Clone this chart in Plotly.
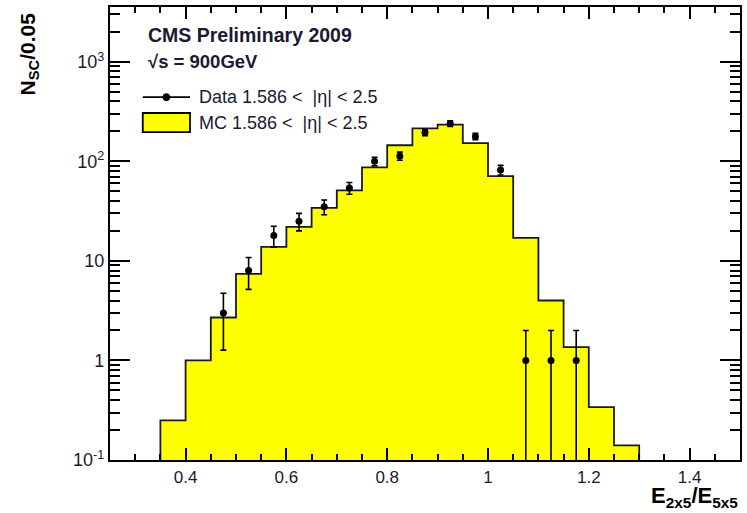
import numpy as np
import plotly.graph_objects as go

# ---- data ----
bin_width = 0.05
mc_low_edges = [0.35, 0.40, 0.45, 0.50, 0.55, 0.60, 0.65, 0.70, 0.75, 0.80,
                0.85, 0.90, 0.95, 1.00, 1.05, 1.10, 1.15, 1.20, 1.25]
mc_values = [0.25, 1.0, 2.7, 7.4, 13.8, 22, 34, 51, 87, 145,
             214, 234, 152, 71, 17, 4.0, 1.36, 0.34, 0.14]

data_x = [0.475, 0.525, 0.575, 0.625, 0.675, 0.725, 0.775, 0.825, 0.875,
          0.925, 0.975, 1.025, 1.075, 1.125, 1.175]
data_y = [3, 8, 18, 25, 35, 54, 100, 113, 195, 240, 178, 82, 1, 1, 1]

x_tickvals = [0.4, 0.6, 0.8, 1.0, 1.2, 1.4]
x_ticktext = ["0.4", "0.6", "0.8", "1", "1.2", "1.4"]
y_tickvals = [0.1, 1, 10, 100, 1000]
y_ticktext = ["10<sup>-1</sup>", "1", "10", "10<sup>2</sup>", "10<sup>3</sup>"]

x_range = [0.25, 1.5]
y_range_log = [-1, 3.55]

# ---- build step outline of the MC histogram ----
edges = list(mc_low_edges) + [mc_low_edges[-1] + bin_width]
y_floor = 10 ** (y_range_log[0] - 0.5)
step_x = [edges[0]] + edges[:-1] + [edges[-1], edges[-1]]
step_y = [y_floor] + mc_values + [mc_values[-1], y_floor]

# Poisson-like errors
err_plus = [np.sqrt(v) if v > 1 else 1.0 for v in data_y]
err_minus = [np.sqrt(v) if v > 1 else v * 0.9999 for v in data_y]

FONT = "Liberation Sans, Arial, Helvetica, sans-serif"
TXT = "#1a1a33"

fig = go.Figure()
fig.add_trace(go.Scatter(
    x=step_x, y=step_y, mode="lines", line_shape="hv",
    fill="toself", fillcolor="#FFFF00",
    line=dict(color="#1a1a1a", width=1.8),
    hoverinfo="skip", showlegend=False,
))
fig.add_trace(go.Scatter(
    x=data_x, y=data_y, mode="markers",
    marker=dict(color="black", size=7),
    error_y=dict(type="data", array=err_plus, arrayminus=err_minus,
                 color="black", thickness=1.6, width=3, symmetric=False),
    showlegend=False,
))

minor_y = []
for d in [0.1, 1, 10, 100, 1000]:
    for k in range(2, 10):
        v = d * k
        if np.log10(v) < y_range_log[1]:
            minor_y.append(v)

fig.update_layout(
    width=747, height=513,
    margin=dict(l=110, r=5, t=7, b=53),
    paper_bgcolor="white", plot_bgcolor="white",
    font=dict(family=FONT, color="#1a1a1a"),
    xaxis=dict(
        range=x_range, tickvals=x_tickvals, ticktext=x_ticktext,
        ticks="inside", ticklen=12, tickwidth=1.8, tickcolor="black",
        showline=True, linewidth=2.2, linecolor="black", mirror="allticks",
        showgrid=False, zeroline=False,
        tickfont=dict(size=17, family=FONT, color=TXT),
        minor=dict(dtick=0.05, tick0=0, ticks="inside", ticklen=6,
                   tickwidth=1.6, tickcolor="black", showgrid=False),
    ),
    yaxis=dict(
        type="log", range=y_range_log, tickvals=y_tickvals, ticktext=y_ticktext,
        ticks="inside", ticklen=20, tickwidth=1.8, tickcolor="black",
        showline=True, linewidth=2.2, linecolor="black", mirror="allticks",
        showgrid=False, zeroline=False,
        tickfont=dict(size=18, family=FONT, color=TXT),
        minor=dict(tickvals=minor_y, ticks="inside", ticklen=10,
                   tickwidth=1.6, tickcolor="black", showgrid=False),
    ),
)

# axis titles
fig.add_annotation(
    xref="paper", yref="paper", x=-0.129, y=0.993, textangle=-90,
    text="<b>N<sub>SC</sub>/0.05</b>", showarrow=False,
    font=dict(size=21, family=FONT, color="black"),
    xanchor="center", yanchor="top",
)
fig.add_annotation(
    xref="paper", yref="paper", x=1.0, y=-0.082,
    text="<b>E<sub>2x5</sub>/E<sub>5x5</sub></b>", showarrow=False,
    font=dict(size=22, family=FONT, color="black"),
    xanchor="right", yanchor="middle",
)

# header texts
fig.add_annotation(
    xref="paper", yref="paper", x=0.057, y=0.938,
    text="<b>CMS Preliminary 2009</b>", showarrow=False,
    font=dict(size=19.5, family=FONT, color=TXT),
    xanchor="left", yanchor="middle",
)
fig.add_annotation(
    xref="paper", yref="paper", x=0.057, y=0.879,
    text="<b>√s = 900GeV</b>", showarrow=False,
    font=dict(size=18.5, family=FONT, color=TXT),
    xanchor="left", yanchor="middle",
)

# manual legend
leg_y1 = 0.801
leg_y2 = 0.745
fig.add_shape(type="line", xref="paper", yref="paper",
              x0=0.052, x1=0.127, y0=leg_y1, y1=leg_y1,
              line=dict(color="black", width=1.8))
fig.add_shape(type="circle", xref="paper", yref="paper",
              x0=0.0895 - 0.0055, x1=0.0895 + 0.0055,
              y0=leg_y1 - 0.0077, y1=leg_y1 + 0.0077,
              fillcolor="black", line=dict(color="black", width=1))
fig.add_annotation(
    xref="paper", yref="paper", x=0.138, y=leg_y1,
    text="Data 1.586 <  |η| < 2.5", showarrow=False,
    font=dict(size=18, family=FONT, color=TXT),
    xanchor="left", yanchor="middle",
)
fig.add_shape(type="rect", xref="paper", yref="paper",
              x0=0.052, x1=0.127, y0=leg_y2 - 0.021, y1=leg_y2 + 0.021,
              fillcolor="#FFFF00", line=dict(color="black", width=1.8))
fig.add_annotation(
    xref="paper", yref="paper", x=0.138, y=leg_y2,
    text="MC 1.586 <  |η| < 2.5", showarrow=False,
    font=dict(size=18, family=FONT, color=TXT),
    xanchor="left", yanchor="middle",
)

fig.write_html(
    "out.html",
    config={"displayModeBar": False},
    post_script="document.body.style.margin='0px';document.body.style.padding='0px';"
                "document.body.style.overflow='hidden';",
)
